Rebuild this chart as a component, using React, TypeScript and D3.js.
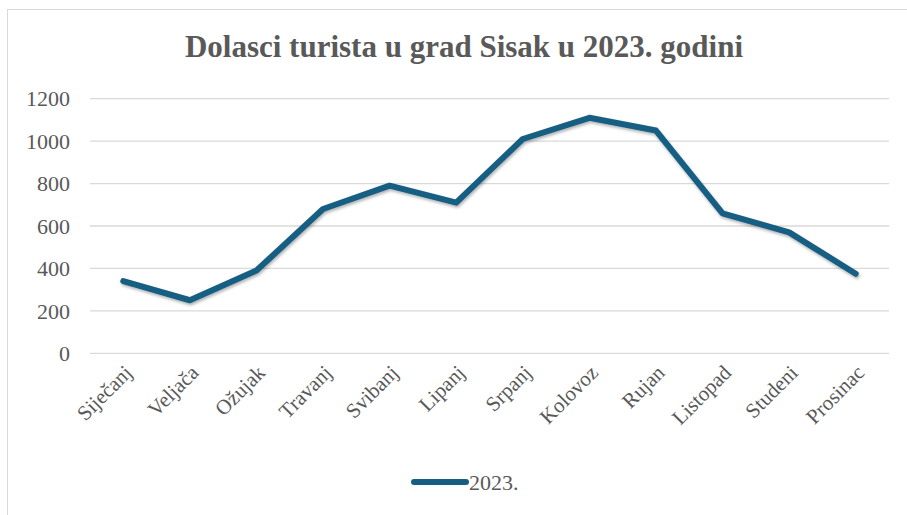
import React, { useEffect, useRef } from 'react';
import * as d3 from 'd3';

const months = ['Siječanj', 'Veljača', 'Ožujak', 'Travanj', 'Svibanj', 'Lipanj', 'Srpanj', 'Kolovoz', 'Rujan', 'Listopad', 'Studeni', 'Prosinac'];
const arrivals = [340, 250, 390, 680, 790, 710, 1010, 1110, 1050, 660, 570, 375];
const yTicks = [0, 200, 400, 600, 800, 1000, 1200];
const seriesName = '2023.';
const title = 'Dolasci turista u grad Sisak u 2023. godini';

const App = () => {
  const ref = useRef<SVGSVGElement | null>(null);

  useEffect(() => {
    const svg = d3.select(ref.current);
    svg.selectAll('*').remove();

    const W = 907, H = 515;
    const font = '"Liberation Serif", "Times New Roman", serif';
    const txt = '#595959';
    const lineColor = '#175e82';

    // chart frame
    svg.append('rect')
      .attr('x', 7.5).attr('y', 9.5)
      .attr('width', W).attr('height', H)
      .attr('fill', '#fff')
      .attr('stroke', '#d9d9d9');

    const x = d3.scaleBand().domain(months).range([90, 889]);
    const y = d3.scaleLinear().domain([0, 1200]).range([353.3, 98.7]);

    svg.append('text')
      .attr('x', 464).attr('y', 57)
      .attr('text-anchor', 'middle')
      .style('font-family', font).style('font-weight', 'bold')
      .style('font-size', '31px').style('fill', txt)
      .text(title);

    // gridlines
    svg.append('g').selectAll('line')
      .data(yTicks).enter().append('line')
      .attr('x1', 90).attr('x2', 889)
      .attr('y1', d => y(d)).attr('y2', d => y(d))
      .attr('stroke', '#d9d9d9').attr('stroke-width', 1.3);

    // y labels
    svg.append('g').selectAll('text')
      .data(yTicks).enter().append('text')
      .attr('x', 70).attr('y', d => y(d))
      .attr('dy', '0.35em')
      .attr('text-anchor', 'end')
      .style('font-family', font).style('font-size', '22px').style('fill', txt)
      .text(d => d);

    // x labels, rotated
    svg.append('g').selectAll('text')
      .data(months).enter().append('text')
      .attr('transform', d => `translate(${x(d)! + x.bandwidth() / 2 + 10},${374}) rotate(-45)`)
      .attr('text-anchor', 'end')
      .style('font-family', font).style('font-size', '21px').style('fill', txt)
      .text(d => d);

    const defs = svg.append('defs');
    const f = defs.append('filter').attr('id', 'shadow')
      .attr('x', '-10%').attr('y', '-10%').attr('width', '120%').attr('height', '130%');
    f.append('feDropShadow')
      .attr('dx', 1).attr('dy', 2).attr('stdDeviation', 1.5)
      .attr('flood-color', '#000').attr('flood-opacity', 0.3);

    const line = d3.line<number>()
      .x((d, i) => x(months[i])! + x.bandwidth() / 2)
      .y(d => y(d));

    svg.append('path')
      .datum(arrivals)
      .attr('d', line)
      .attr('fill', 'none')
      .attr('stroke', lineColor)
      .attr('stroke-width', 6)
      .attr('stroke-linejoin', 'round')
      .attr('stroke-linecap', 'round')
      .attr('filter', 'url(#shadow)');

    // legend
    svg.append('line')
      .attr('x1', 414).attr('x2', 466)
      .attr('y1', 482).attr('y2', 482)
      .attr('stroke', lineColor).attr('stroke-width', 6)
      .attr('stroke-linecap', 'round');
    svg.append('text')
      .attr('x', 469).attr('y', 482).attr('dy', '0.35em')
      .style('font-family', font).style('font-size', '22px').style('fill', txt)
      .text(seriesName);
  }, []);

  return <svg ref={ref} width={907} height={515} style={{ position: 'absolute', left: 0, top: 0 }} />;
};

export default App;
